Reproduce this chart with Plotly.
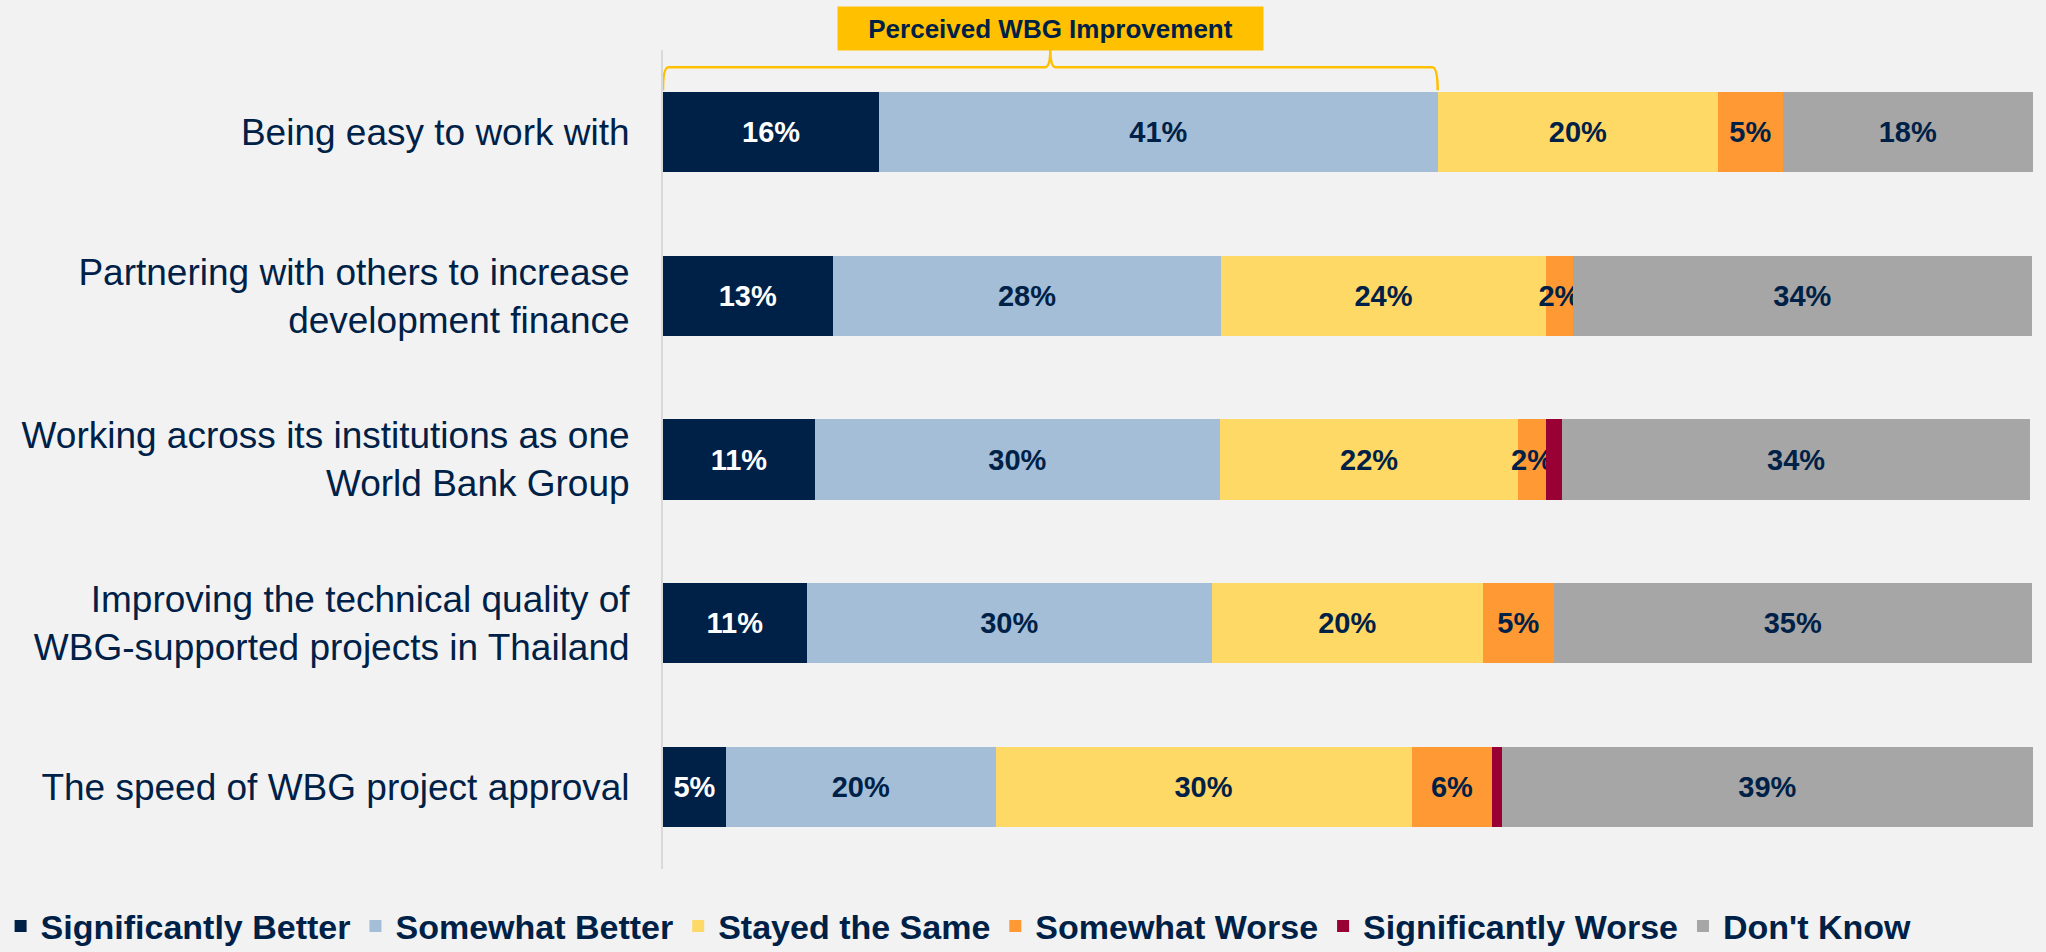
import plotly.graph_objects as go

categories = [
    "Being easy to work with",
    "Partnering with others to increase<br>development finance",
    "Working across its institutions as one<br>World Bank Group",
    "Improving the technical quality of<br>WBG-supported projects in Thailand",
    "The speed of WBG project approval",
]
series_names = ["Significantly Better", "Somewhat Better", "Stayed the Same",
                "Somewhat Worse", "Significantly Worse", "Don't Know"]

significantly_better = [15.8, 12.4, 11.1, 10.5, 4.6]
somewhat_better = [40.8, 28.4, 29.6, 29.6, 19.7]
stayed_same = [20.5, 23.7, 21.8, 19.8, 30.4]
somewhat_worse = [4.7, 2.0, 2.0, 5.2, 5.9]
significantly_worse = [0.0, 0.0, 1.2, 0.0, 0.7]
dont_know = [18.3, 33.5, 34.2, 34.9, 38.8]

label_sig_better = ["16%", "13%", "11%", "11%", "5%"]
label_some_better = ["41%", "28%", "30%", "30%", "20%"]
label_same = ["20%", "24%", "22%", "20%", "30%"]
label_some_worse = ["5%", "2%", "2%", "5%", "6%"]
label_sig_worse = ["", "", "", "", ""]
label_dont_know = ["18%", "34%", "34%", "35%", "39%"]

bracket_title = "Perceived WBG Improvement"

colors = ["#002147", "#A3BED6", "#FFD966", "#FF9933", "#990033", "#A6A6A6"]
text_colors = ["#FFFFFF", "#002147", "#002147", "#002147", "#FFFFFF", "#002147"]
values = [significantly_better, somewhat_better, stayed_same,
          somewhat_worse, significantly_worse, dont_know]
labels = [label_sig_better, label_some_better, label_same,
          label_some_worse, label_sig_worse, label_dont_know]

NAVY = "#002147"
FONT = "Liberation Sans, Arial, sans-serif"

fig = go.Figure()
for name, vals, labs, c, tc in zip(series_names, values, labels, colors, text_colors):
    fig.add_trace(go.Bar(
        y=categories, x=vals, name=name, orientation="h",
        marker=dict(color=c, line=dict(width=0)),
        text=labs, textposition="inside", insidetextanchor="middle",
        textangle=0,
        textfont=dict(family=FONT, size=29, color=tc, weight="bold"),
        hoverinfo="skip",
    ))

# bracket over the "improvement" part of the first row
x1 = significantly_better[0] + somewhat_better[0]
xm = x1 / 2
d = 0.4
y_bar = 0.951
y_h = 0.979
y_tip = 1.001
path = (f"M 0,{y_bar} Q 0,{y_h} {d},{y_h} L {xm-d},{y_h} Q {xm},{y_h} {xm},{y_tip} "
        f"Q {xm},{y_h} {xm+d},{y_h} L {x1-d},{y_h} Q {x1},{y_h} {x1},{y_bar}")
fig.add_shape(type="path", path=path, xref="x", yref="paper",
              line=dict(color="#FFC000", width=2.5))

fig.add_annotation(
    x=xm, y=1.026, xref="x", yref="paper", text=f"<b>{bracket_title}</b>",
    showarrow=False, bgcolor="#FFC000", width=423, height=41,
    font=dict(family=FONT, size=26, color=NAVY), xanchor="center", yanchor="middle",
)

fig.update_layout(
    barmode="stack",
    bargap=0.51,
    width=2046, height=952,
    paper_bgcolor="#F2F2F2", plot_bgcolor="#F2F2F2",
    margin=dict(l=663, r=13, t=50, b=83, autoexpand=False),
    uniformtext=dict(minsize=29, mode="show"),
    xaxis=dict(range=[0, 100.1], showgrid=False, zeroline=False,
               showticklabels=False, showline=False, fixedrange=True,
               automargin=False),
    yaxis=dict(autorange="reversed", showgrid=False, zeroline=False,
               showline=True, linecolor="#D9D9D9", linewidth=2,
               ticks="outside", ticklen=24, tickcolor="rgba(0,0,0,0)",
               automargin=False, fixedrange=True,
               tickfont=dict(family=FONT, size=37, color=NAVY)),
    legend=dict(orientation="h", x=-0.4835, xanchor="left", y=-0.070, yanchor="middle",
                font=dict(family=FONT, size=34, color=NAVY, weight="bold"),
                bgcolor="rgba(0,0,0,0)", traceorder="normal", itemclick=False,
                itemwidth=30),
    showlegend=True,
)

fig.write_html("out.html",
               config={"displayModeBar": False},
               post_script="document.body.style.margin='0';document.body.style.overflow='hidden';")
